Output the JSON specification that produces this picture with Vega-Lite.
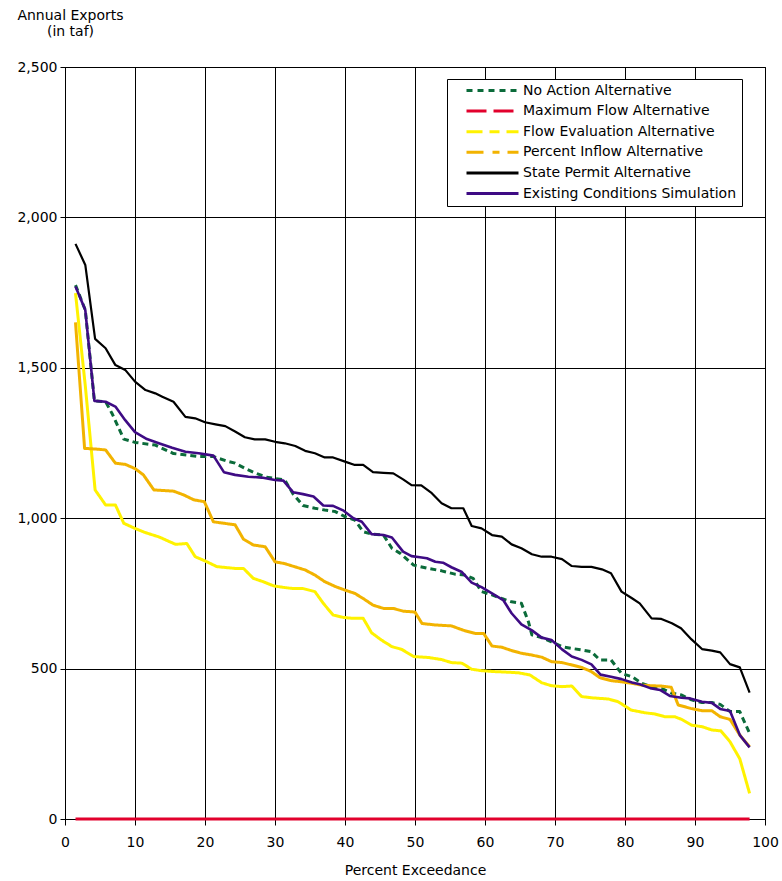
{
  "$schema": "https://vega.github.io/schema/vega-lite/v6.json",
  "autosize": {"type": "none"},
  "width": 700,
  "height": 752,
  "padding": {"left": 65, "top": 67, "right": 17, "bottom": 62},
  "background": "white",
  "config": {
    "view": {"stroke": "black", "strokeWidth": 1},
    "font": "DejaVu Sans",
    "axis": {
      "labelFont": "DejaVu Sans",
      "labelFontSize": 14,
      "labelColor": "black",
      "titleFont": "DejaVu Sans",
      "titleFontSize": 14,
      "titleFontWeight": "normal",
      "titleColor": "black",
      "domainColor": "black",
      "tickColor": "black",
      "gridColor": "black",
      "gridOpacity": 1,
      "gridWidth": 1
    },
    "legend": {
      "labelFont": "DejaVu Sans",
      "labelFontSize": 14,
      "labelColor": "black"
    }
  },
  "data": {
    "values": [
      {"series": "No Action Alternative", "p": 1.5, "taf": 1775},
      {"series": "No Action Alternative", "p": 2.9, "taf": 1692},
      {"series": "No Action Alternative", "p": 4.2, "taf": 1390},
      {"series": "No Action Alternative", "p": 5.8, "taf": 1387},
      {"series": "No Action Alternative", "p": 6.7, "taf": 1349},
      {"series": "No Action Alternative", "p": 8.4, "taf": 1263},
      {"series": "No Action Alternative", "p": 10.0, "taf": 1252},
      {"series": "No Action Alternative", "p": 12.9, "taf": 1243},
      {"series": "No Action Alternative", "p": 15.5, "taf": 1215},
      {"series": "No Action Alternative", "p": 19.1, "taf": 1205},
      {"series": "No Action Alternative", "p": 21.2, "taf": 1205},
      {"series": "No Action Alternative", "p": 23.1, "taf": 1190},
      {"series": "No Action Alternative", "p": 24.3, "taf": 1183},
      {"series": "No Action Alternative", "p": 25.7, "taf": 1166},
      {"series": "No Action Alternative", "p": 27.1, "taf": 1151},
      {"series": "No Action Alternative", "p": 28.8, "taf": 1136},
      {"series": "No Action Alternative", "p": 31.4, "taf": 1127},
      {"series": "No Action Alternative", "p": 32.6, "taf": 1080},
      {"series": "No Action Alternative", "p": 34.0, "taf": 1042},
      {"series": "No Action Alternative", "p": 35.7, "taf": 1033},
      {"series": "No Action Alternative", "p": 37.1, "taf": 1027},
      {"series": "No Action Alternative", "p": 38.6, "taf": 1022},
      {"series": "No Action Alternative", "p": 40.0, "taf": 1005},
      {"series": "No Action Alternative", "p": 41.4, "taf": 994},
      {"series": "No Action Alternative", "p": 42.6, "taf": 955},
      {"series": "No Action Alternative", "p": 43.8, "taf": 947},
      {"series": "No Action Alternative", "p": 45.5, "taf": 944},
      {"series": "No Action Alternative", "p": 46.7, "taf": 900},
      {"series": "No Action Alternative", "p": 47.9, "taf": 883},
      {"series": "No Action Alternative", "p": 49.8, "taf": 844},
      {"series": "No Action Alternative", "p": 51.9, "taf": 833},
      {"series": "No Action Alternative", "p": 53.8, "taf": 825},
      {"series": "No Action Alternative", "p": 55.7, "taf": 814},
      {"series": "No Action Alternative", "p": 57.1, "taf": 811},
      {"series": "No Action Alternative", "p": 58.3, "taf": 800},
      {"series": "No Action Alternative", "p": 59.5, "taf": 756},
      {"series": "No Action Alternative", "p": 61.0, "taf": 745},
      {"series": "No Action Alternative", "p": 62.4, "taf": 733},
      {"series": "No Action Alternative", "p": 63.8, "taf": 722},
      {"series": "No Action Alternative", "p": 65.2, "taf": 717},
      {"series": "No Action Alternative", "p": 66.2, "taf": 656},
      {"series": "No Action Alternative", "p": 66.7, "taf": 612},
      {"series": "No Action Alternative", "p": 68.1, "taf": 603},
      {"series": "No Action Alternative", "p": 69.5, "taf": 589},
      {"series": "No Action Alternative", "p": 71.0, "taf": 573},
      {"series": "No Action Alternative", "p": 72.4, "taf": 567},
      {"series": "No Action Alternative", "p": 73.8, "taf": 562},
      {"series": "No Action Alternative", "p": 75.2, "taf": 556},
      {"series": "No Action Alternative", "p": 76.4, "taf": 529},
      {"series": "No Action Alternative", "p": 78.0, "taf": 529},
      {"series": "No Action Alternative", "p": 79.5, "taf": 484},
      {"series": "No Action Alternative", "p": 81.0, "taf": 473},
      {"series": "No Action Alternative", "p": 82.4, "taf": 451},
      {"series": "No Action Alternative", "p": 83.8, "taf": 440},
      {"series": "No Action Alternative", "p": 85.2, "taf": 434},
      {"series": "No Action Alternative", "p": 86.7, "taf": 418},
      {"series": "No Action Alternative", "p": 88.1, "taf": 412},
      {"series": "No Action Alternative", "p": 89.5, "taf": 396},
      {"series": "No Action Alternative", "p": 91.0, "taf": 387},
      {"series": "No Action Alternative", "p": 92.4, "taf": 387},
      {"series": "No Action Alternative", "p": 93.6, "taf": 381},
      {"series": "No Action Alternative", "p": 95.0, "taf": 357},
      {"series": "No Action Alternative", "p": 96.4, "taf": 357},
      {"series": "No Action Alternative", "p": 97.8, "taf": 285},

      {"series": "Maximum Flow Alternative", "p": 1.5, "taf": 0},
      {"series": "Maximum Flow Alternative", "p": 25.0, "taf": 0},
      {"series": "Maximum Flow Alternative", "p": 50.0, "taf": 0},
      {"series": "Maximum Flow Alternative", "p": 75.0, "taf": 0},
      {"series": "Maximum Flow Alternative", "p": 97.8, "taf": 0},

      {"series": "Flow Evaluation Alternative", "p": 1.5, "taf": 1748},
      {"series": "Flow Evaluation Alternative", "p": 2.9, "taf": 1440},
      {"series": "Flow Evaluation Alternative", "p": 4.3, "taf": 1094},
      {"series": "Flow Evaluation Alternative", "p": 5.8, "taf": 1044},
      {"series": "Flow Evaluation Alternative", "p": 7.2, "taf": 1044},
      {"series": "Flow Evaluation Alternative", "p": 8.4, "taf": 983},
      {"series": "Flow Evaluation Alternative", "p": 10.0, "taf": 966},
      {"series": "Flow Evaluation Alternative", "p": 11.5, "taf": 952},
      {"series": "Flow Evaluation Alternative", "p": 13.4, "taf": 938},
      {"series": "Flow Evaluation Alternative", "p": 15.8, "taf": 913},
      {"series": "Flow Evaluation Alternative", "p": 17.4, "taf": 916},
      {"series": "Flow Evaluation Alternative", "p": 18.6, "taf": 872},
      {"series": "Flow Evaluation Alternative", "p": 20.0, "taf": 858},
      {"series": "Flow Evaluation Alternative", "p": 21.7, "taf": 839},
      {"series": "Flow Evaluation Alternative", "p": 24.3, "taf": 833},
      {"series": "Flow Evaluation Alternative", "p": 25.5, "taf": 833},
      {"series": "Flow Evaluation Alternative", "p": 26.9, "taf": 800},
      {"series": "Flow Evaluation Alternative", "p": 28.3, "taf": 789},
      {"series": "Flow Evaluation Alternative", "p": 29.8, "taf": 775},
      {"series": "Flow Evaluation Alternative", "p": 31.2, "taf": 770},
      {"series": "Flow Evaluation Alternative", "p": 32.6, "taf": 766},
      {"series": "Flow Evaluation Alternative", "p": 34.0, "taf": 766},
      {"series": "Flow Evaluation Alternative", "p": 35.7, "taf": 756},
      {"series": "Flow Evaluation Alternative", "p": 36.9, "taf": 717},
      {"series": "Flow Evaluation Alternative", "p": 38.3, "taf": 678},
      {"series": "Flow Evaluation Alternative", "p": 39.8, "taf": 670},
      {"series": "Flow Evaluation Alternative", "p": 41.2, "taf": 667},
      {"series": "Flow Evaluation Alternative", "p": 42.6, "taf": 667},
      {"series": "Flow Evaluation Alternative", "p": 43.8, "taf": 619},
      {"series": "Flow Evaluation Alternative", "p": 45.2, "taf": 595},
      {"series": "Flow Evaluation Alternative", "p": 46.7, "taf": 573},
      {"series": "Flow Evaluation Alternative", "p": 48.1, "taf": 564},
      {"series": "Flow Evaluation Alternative", "p": 49.8, "taf": 540},
      {"series": "Flow Evaluation Alternative", "p": 51.9, "taf": 537},
      {"series": "Flow Evaluation Alternative", "p": 53.8, "taf": 530},
      {"series": "Flow Evaluation Alternative", "p": 55.2, "taf": 520},
      {"series": "Flow Evaluation Alternative", "p": 56.7, "taf": 518},
      {"series": "Flow Evaluation Alternative", "p": 58.1, "taf": 498},
      {"series": "Flow Evaluation Alternative", "p": 59.5, "taf": 493},
      {"series": "Flow Evaluation Alternative", "p": 61.4, "taf": 490},
      {"series": "Flow Evaluation Alternative", "p": 63.3, "taf": 488},
      {"series": "Flow Evaluation Alternative", "p": 64.8, "taf": 486},
      {"series": "Flow Evaluation Alternative", "p": 66.4, "taf": 479},
      {"series": "Flow Evaluation Alternative", "p": 68.1, "taf": 453},
      {"series": "Flow Evaluation Alternative", "p": 69.5, "taf": 443},
      {"series": "Flow Evaluation Alternative", "p": 71.0, "taf": 440},
      {"series": "Flow Evaluation Alternative", "p": 72.4, "taf": 442},
      {"series": "Flow Evaluation Alternative", "p": 73.8, "taf": 407},
      {"series": "Flow Evaluation Alternative", "p": 75.2, "taf": 403},
      {"series": "Flow Evaluation Alternative", "p": 76.4, "taf": 401},
      {"series": "Flow Evaluation Alternative", "p": 77.6, "taf": 399},
      {"series": "Flow Evaluation Alternative", "p": 79.0, "taf": 390},
      {"series": "Flow Evaluation Alternative", "p": 80.9, "taf": 362},
      {"series": "Flow Evaluation Alternative", "p": 82.9, "taf": 353},
      {"series": "Flow Evaluation Alternative", "p": 84.3, "taf": 349},
      {"series": "Flow Evaluation Alternative", "p": 85.7, "taf": 340},
      {"series": "Flow Evaluation Alternative", "p": 87.1, "taf": 340},
      {"series": "Flow Evaluation Alternative", "p": 88.1, "taf": 331},
      {"series": "Flow Evaluation Alternative", "p": 89.5, "taf": 312},
      {"series": "Flow Evaluation Alternative", "p": 91.0, "taf": 307},
      {"series": "Flow Evaluation Alternative", "p": 92.4, "taf": 296},
      {"series": "Flow Evaluation Alternative", "p": 93.7, "taf": 293},
      {"series": "Flow Evaluation Alternative", "p": 95.0, "taf": 257},
      {"series": "Flow Evaluation Alternative", "p": 96.4, "taf": 200},
      {"series": "Flow Evaluation Alternative", "p": 97.8, "taf": 85},

      {"series": "Percent Inflow Alternative", "p": 1.5, "taf": 1651},
      {"series": "Percent Inflow Alternative", "p": 2.8, "taf": 1232},
      {"series": "Percent Inflow Alternative", "p": 4.3, "taf": 1230},
      {"series": "Percent Inflow Alternative", "p": 5.8, "taf": 1227},
      {"series": "Percent Inflow Alternative", "p": 7.2, "taf": 1183},
      {"series": "Percent Inflow Alternative", "p": 8.6, "taf": 1179},
      {"series": "Percent Inflow Alternative", "p": 10.0, "taf": 1165},
      {"series": "Percent Inflow Alternative", "p": 11.2, "taf": 1144},
      {"series": "Percent Inflow Alternative", "p": 12.7, "taf": 1094},
      {"series": "Percent Inflow Alternative", "p": 15.5, "taf": 1090},
      {"series": "Percent Inflow Alternative", "p": 17.0, "taf": 1077},
      {"series": "Percent Inflow Alternative", "p": 18.4, "taf": 1061},
      {"series": "Percent Inflow Alternative", "p": 19.9, "taf": 1055},
      {"series": "Percent Inflow Alternative", "p": 21.2, "taf": 988},
      {"series": "Percent Inflow Alternative", "p": 24.3, "taf": 978},
      {"series": "Percent Inflow Alternative", "p": 25.5, "taf": 930},
      {"series": "Percent Inflow Alternative", "p": 26.9, "taf": 911},
      {"series": "Percent Inflow Alternative", "p": 28.6, "taf": 905},
      {"series": "Percent Inflow Alternative", "p": 30.0, "taf": 855},
      {"series": "Percent Inflow Alternative", "p": 31.4, "taf": 849},
      {"series": "Percent Inflow Alternative", "p": 32.9, "taf": 838},
      {"series": "Percent Inflow Alternative", "p": 34.3, "taf": 828},
      {"series": "Percent Inflow Alternative", "p": 35.7, "taf": 811},
      {"series": "Percent Inflow Alternative", "p": 37.1, "taf": 789},
      {"series": "Percent Inflow Alternative", "p": 38.6, "taf": 773},
      {"series": "Percent Inflow Alternative", "p": 40.0, "taf": 761},
      {"series": "Percent Inflow Alternative", "p": 41.4, "taf": 750},
      {"series": "Percent Inflow Alternative", "p": 42.6, "taf": 733},
      {"series": "Percent Inflow Alternative", "p": 44.0, "taf": 711},
      {"series": "Percent Inflow Alternative", "p": 45.5, "taf": 700},
      {"series": "Percent Inflow Alternative", "p": 46.9, "taf": 700},
      {"series": "Percent Inflow Alternative", "p": 48.3, "taf": 691},
      {"series": "Percent Inflow Alternative", "p": 50.0, "taf": 688},
      {"series": "Percent Inflow Alternative", "p": 51.0, "taf": 650},
      {"series": "Percent Inflow Alternative", "p": 52.9, "taf": 645},
      {"series": "Percent Inflow Alternative", "p": 55.2, "taf": 642},
      {"series": "Percent Inflow Alternative", "p": 57.1, "taf": 626},
      {"series": "Percent Inflow Alternative", "p": 58.6, "taf": 617},
      {"series": "Percent Inflow Alternative", "p": 59.8, "taf": 617},
      {"series": "Percent Inflow Alternative", "p": 61.0, "taf": 575},
      {"series": "Percent Inflow Alternative", "p": 62.4, "taf": 571},
      {"series": "Percent Inflow Alternative", "p": 63.8, "taf": 560},
      {"series": "Percent Inflow Alternative", "p": 65.2, "taf": 551},
      {"series": "Percent Inflow Alternative", "p": 66.7, "taf": 545},
      {"series": "Percent Inflow Alternative", "p": 68.1, "taf": 538},
      {"series": "Percent Inflow Alternative", "p": 69.5, "taf": 523},
      {"series": "Percent Inflow Alternative", "p": 71.0, "taf": 520},
      {"series": "Percent Inflow Alternative", "p": 72.4, "taf": 512},
      {"series": "Percent Inflow Alternative", "p": 73.8, "taf": 504},
      {"series": "Percent Inflow Alternative", "p": 75.2, "taf": 490},
      {"series": "Percent Inflow Alternative", "p": 76.4, "taf": 470},
      {"series": "Percent Inflow Alternative", "p": 78.0, "taf": 460},
      {"series": "Percent Inflow Alternative", "p": 79.5, "taf": 456},
      {"series": "Percent Inflow Alternative", "p": 81.0, "taf": 451},
      {"series": "Percent Inflow Alternative", "p": 82.4, "taf": 445},
      {"series": "Percent Inflow Alternative", "p": 83.8, "taf": 443},
      {"series": "Percent Inflow Alternative", "p": 85.2, "taf": 442},
      {"series": "Percent Inflow Alternative", "p": 86.6, "taf": 438},
      {"series": "Percent Inflow Alternative", "p": 87.6, "taf": 379},
      {"series": "Percent Inflow Alternative", "p": 89.5, "taf": 367},
      {"series": "Percent Inflow Alternative", "p": 91.0, "taf": 360},
      {"series": "Percent Inflow Alternative", "p": 92.4, "taf": 360},
      {"series": "Percent Inflow Alternative", "p": 93.6, "taf": 340},
      {"series": "Percent Inflow Alternative", "p": 95.0, "taf": 331},
      {"series": "Percent Inflow Alternative", "p": 96.4, "taf": 279},
      {"series": "Percent Inflow Alternative", "p": 97.8, "taf": 240},

      {"series": "State Permit Alternative", "p": 1.5, "taf": 1912},
      {"series": "State Permit Alternative", "p": 2.9, "taf": 1842},
      {"series": "State Permit Alternative", "p": 4.3, "taf": 1596},
      {"series": "State Permit Alternative", "p": 5.8, "taf": 1565},
      {"series": "State Permit Alternative", "p": 7.2, "taf": 1509},
      {"series": "State Permit Alternative", "p": 8.6, "taf": 1493},
      {"series": "State Permit Alternative", "p": 10.0, "taf": 1454},
      {"series": "State Permit Alternative", "p": 11.5, "taf": 1426},
      {"series": "State Permit Alternative", "p": 12.9, "taf": 1415},
      {"series": "State Permit Alternative", "p": 13.9, "taf": 1404},
      {"series": "State Permit Alternative", "p": 15.5, "taf": 1387},
      {"series": "State Permit Alternative", "p": 17.2, "taf": 1337},
      {"series": "State Permit Alternative", "p": 18.6, "taf": 1332},
      {"series": "State Permit Alternative", "p": 20.0, "taf": 1319},
      {"series": "State Permit Alternative", "p": 21.5, "taf": 1312},
      {"series": "State Permit Alternative", "p": 22.9, "taf": 1306},
      {"series": "State Permit Alternative", "p": 24.3, "taf": 1288},
      {"series": "State Permit Alternative", "p": 25.7, "taf": 1269},
      {"series": "State Permit Alternative", "p": 27.1, "taf": 1262},
      {"series": "State Permit Alternative", "p": 28.6, "taf": 1262},
      {"series": "State Permit Alternative", "p": 30.0, "taf": 1254},
      {"series": "State Permit Alternative", "p": 31.4, "taf": 1249},
      {"series": "State Permit Alternative", "p": 32.9, "taf": 1240},
      {"series": "State Permit Alternative", "p": 34.3, "taf": 1224},
      {"series": "State Permit Alternative", "p": 35.7, "taf": 1216},
      {"series": "State Permit Alternative", "p": 37.1, "taf": 1202},
      {"series": "State Permit Alternative", "p": 38.3, "taf": 1202},
      {"series": "State Permit Alternative", "p": 40.0, "taf": 1188},
      {"series": "State Permit Alternative", "p": 41.4, "taf": 1177},
      {"series": "State Permit Alternative", "p": 42.6, "taf": 1177},
      {"series": "State Permit Alternative", "p": 44.0, "taf": 1153},
      {"series": "State Permit Alternative", "p": 45.5, "taf": 1151},
      {"series": "State Permit Alternative", "p": 46.9, "taf": 1149},
      {"series": "State Permit Alternative", "p": 48.3, "taf": 1129},
      {"series": "State Permit Alternative", "p": 49.5, "taf": 1110},
      {"series": "State Permit Alternative", "p": 50.9, "taf": 1109},
      {"series": "State Permit Alternative", "p": 52.4, "taf": 1083},
      {"series": "State Permit Alternative", "p": 53.8, "taf": 1050},
      {"series": "State Permit Alternative", "p": 55.2, "taf": 1033},
      {"series": "State Permit Alternative", "p": 56.9, "taf": 1033},
      {"series": "State Permit Alternative", "p": 58.1, "taf": 974},
      {"series": "State Permit Alternative", "p": 59.5, "taf": 966},
      {"series": "State Permit Alternative", "p": 61.0, "taf": 944},
      {"series": "State Permit Alternative", "p": 62.4, "taf": 939},
      {"series": "State Permit Alternative", "p": 63.8, "taf": 913},
      {"series": "State Permit Alternative", "p": 65.2, "taf": 900},
      {"series": "State Permit Alternative", "p": 66.7, "taf": 880},
      {"series": "State Permit Alternative", "p": 68.1, "taf": 872},
      {"series": "State Permit Alternative", "p": 69.5, "taf": 872},
      {"series": "State Permit Alternative", "p": 71.0, "taf": 864},
      {"series": "State Permit Alternative", "p": 72.4, "taf": 841},
      {"series": "State Permit Alternative", "p": 73.8, "taf": 838},
      {"series": "State Permit Alternative", "p": 75.2, "taf": 838},
      {"series": "State Permit Alternative", "p": 76.7, "taf": 830},
      {"series": "State Permit Alternative", "p": 78.0, "taf": 817},
      {"series": "State Permit Alternative", "p": 79.5, "taf": 756},
      {"series": "State Permit Alternative", "p": 81.0, "taf": 734},
      {"series": "State Permit Alternative", "p": 82.1, "taf": 717},
      {"series": "State Permit Alternative", "p": 83.8, "taf": 667},
      {"series": "State Permit Alternative", "p": 85.2, "taf": 665},
      {"series": "State Permit Alternative", "p": 86.7, "taf": 651},
      {"series": "State Permit Alternative", "p": 88.0, "taf": 634},
      {"series": "State Permit Alternative", "p": 89.5, "taf": 597},
      {"series": "State Permit Alternative", "p": 91.0, "taf": 565},
      {"series": "State Permit Alternative", "p": 92.4, "taf": 560},
      {"series": "State Permit Alternative", "p": 93.6, "taf": 554},
      {"series": "State Permit Alternative", "p": 95.0, "taf": 515},
      {"series": "State Permit Alternative", "p": 96.4, "taf": 504},
      {"series": "State Permit Alternative", "p": 97.8, "taf": 420},

      {"series": "Existing Conditions Simulation", "p": 1.5, "taf": 1770},
      {"series": "Existing Conditions Simulation", "p": 2.9, "taf": 1692},
      {"series": "Existing Conditions Simulation", "p": 4.2, "taf": 1390},
      {"series": "Existing Conditions Simulation", "p": 5.8, "taf": 1387},
      {"series": "Existing Conditions Simulation", "p": 7.2, "taf": 1371},
      {"series": "Existing Conditions Simulation", "p": 8.6, "taf": 1326},
      {"series": "Existing Conditions Simulation", "p": 10.0, "taf": 1286},
      {"series": "Existing Conditions Simulation", "p": 11.7, "taf": 1263},
      {"series": "Existing Conditions Simulation", "p": 13.4, "taf": 1249},
      {"series": "Existing Conditions Simulation", "p": 15.3, "taf": 1234},
      {"series": "Existing Conditions Simulation", "p": 17.2, "taf": 1221},
      {"series": "Existing Conditions Simulation", "p": 19.1, "taf": 1216},
      {"series": "Existing Conditions Simulation", "p": 21.2, "taf": 1208},
      {"series": "Existing Conditions Simulation", "p": 22.7, "taf": 1153},
      {"series": "Existing Conditions Simulation", "p": 24.3, "taf": 1144},
      {"series": "Existing Conditions Simulation", "p": 26.2, "taf": 1138},
      {"series": "Existing Conditions Simulation", "p": 28.1, "taf": 1135},
      {"series": "Existing Conditions Simulation", "p": 30.0, "taf": 1127},
      {"series": "Existing Conditions Simulation", "p": 31.2, "taf": 1125},
      {"series": "Existing Conditions Simulation", "p": 32.6, "taf": 1086},
      {"series": "Existing Conditions Simulation", "p": 34.0, "taf": 1080},
      {"series": "Existing Conditions Simulation", "p": 35.5, "taf": 1072},
      {"series": "Existing Conditions Simulation", "p": 36.9, "taf": 1042},
      {"series": "Existing Conditions Simulation", "p": 38.3, "taf": 1041},
      {"series": "Existing Conditions Simulation", "p": 39.8, "taf": 1025},
      {"series": "Existing Conditions Simulation", "p": 41.2, "taf": 1000},
      {"series": "Existing Conditions Simulation", "p": 42.4, "taf": 988},
      {"series": "Existing Conditions Simulation", "p": 43.8, "taf": 947},
      {"series": "Existing Conditions Simulation", "p": 45.5, "taf": 944},
      {"series": "Existing Conditions Simulation", "p": 46.7, "taf": 936},
      {"series": "Existing Conditions Simulation", "p": 48.3, "taf": 889},
      {"series": "Existing Conditions Simulation", "p": 49.5, "taf": 874},
      {"series": "Existing Conditions Simulation", "p": 50.7, "taf": 870},
      {"series": "Existing Conditions Simulation", "p": 51.7, "taf": 867},
      {"series": "Existing Conditions Simulation", "p": 52.9, "taf": 855},
      {"series": "Existing Conditions Simulation", "p": 54.0, "taf": 852},
      {"series": "Existing Conditions Simulation", "p": 55.2, "taf": 837},
      {"series": "Existing Conditions Simulation", "p": 56.7, "taf": 821},
      {"series": "Existing Conditions Simulation", "p": 58.1, "taf": 786},
      {"series": "Existing Conditions Simulation", "p": 59.5, "taf": 771},
      {"series": "Existing Conditions Simulation", "p": 61.0, "taf": 750},
      {"series": "Existing Conditions Simulation", "p": 62.6, "taf": 728},
      {"series": "Existing Conditions Simulation", "p": 63.8, "taf": 684},
      {"series": "Existing Conditions Simulation", "p": 65.2, "taf": 647},
      {"series": "Existing Conditions Simulation", "p": 66.7, "taf": 627},
      {"series": "Existing Conditions Simulation", "p": 68.1, "taf": 603},
      {"series": "Existing Conditions Simulation", "p": 69.5, "taf": 595},
      {"series": "Existing Conditions Simulation", "p": 71.0, "taf": 564},
      {"series": "Existing Conditions Simulation", "p": 72.4, "taf": 540},
      {"series": "Existing Conditions Simulation", "p": 73.8, "taf": 529},
      {"series": "Existing Conditions Simulation", "p": 75.2, "taf": 514},
      {"series": "Existing Conditions Simulation", "p": 76.5, "taf": 480},
      {"series": "Existing Conditions Simulation", "p": 78.0, "taf": 473},
      {"series": "Existing Conditions Simulation", "p": 79.5, "taf": 465},
      {"series": "Existing Conditions Simulation", "p": 81.0, "taf": 454},
      {"series": "Existing Conditions Simulation", "p": 82.1, "taf": 448},
      {"series": "Existing Conditions Simulation", "p": 83.6, "taf": 435},
      {"series": "Existing Conditions Simulation", "p": 85.0, "taf": 429},
      {"series": "Existing Conditions Simulation", "p": 86.4, "taf": 409},
      {"series": "Existing Conditions Simulation", "p": 88.1, "taf": 403},
      {"series": "Existing Conditions Simulation", "p": 89.3, "taf": 401},
      {"series": "Existing Conditions Simulation", "p": 91.0, "taf": 390},
      {"series": "Existing Conditions Simulation", "p": 92.4, "taf": 386},
      {"series": "Existing Conditions Simulation", "p": 93.6, "taf": 366},
      {"series": "Existing Conditions Simulation", "p": 95.0, "taf": 359},
      {"series": "Existing Conditions Simulation", "p": 96.4, "taf": 279},
      {"series": "Existing Conditions Simulation", "p": 97.8, "taf": 238}
    ]
  },
  "encoding": {
    "x": {
      "field": "p",
      "type": "quantitative",
      "scale": {"domain": [0, 100], "nice": false, "zero": false},
      "axis": {
        "title": "Percent Exceedance",
        "values": [0, 10, 20, 30, 40, 50, 60, 70, 80, 90, 100],
        "format": ".0f",
        "grid": true,
        "tickSize": 6,
        "labelPadding": 10,
        "titlePadding": 14,
        "labelFlush": false
      }
    },
    "y": {
      "field": "taf",
      "type": "quantitative",
      "scale": {"domain": [0, 2500], "nice": false},
      "axis": {
        "title": ["Annual Exports", "(in taf)"],
        "values": [0, 500, 1000, 1500, 2000, 2500],
        "format": ",.0f",
        "grid": true,
        "tickSize": 5,
        "labelPadding": 3,
        "titleAngle": 0,
        "titleAlign": "center",
        "titleBaseline": "top",
        "titleX": 5,
        "titleY": -59,
        "titleLineHeight": 16
      }
    }
  },
  "layer": [
    {
      "transform": [{"filter": {"field": "series", "oneOf": ["No Action Alternative", "Maximum Flow Alternative", "Flow Evaluation Alternative", "Percent Inflow Alternative"]}}],
      "mark": {"type": "line", "strokeWidth": 3, "strokeCap": "butt", "strokeJoin": "round"},
      "encoding": {
        "color": {
          "field": "series", "type": "nominal", "legend": null,
          "scale": {
            "domain": ["No Action Alternative", "Maximum Flow Alternative", "Flow Evaluation Alternative", "Percent Inflow Alternative", "State Permit Alternative", "Existing Conditions Simulation"],
            "range": ["#0B6B3A", "#E2002C", "#FFF200", "#F2B300", "#000000", "#3E0B84"]
          }
        },
        "strokeDash": {
          "field": "series", "type": "nominal", "legend": null,
          "scale": {
            "domain": ["No Action Alternative", "Maximum Flow Alternative", "Flow Evaluation Alternative", "Percent Inflow Alternative", "State Permit Alternative", "Existing Conditions Simulation"],
            "range": [[6, 4], [1, 0], [1, 0], [1, 0], [1, 0], [1, 0]]
          }
        }
      }
    },
    {
      "transform": [{"filter": {"field": "series", "equal": "State Permit Alternative"}}],
      "mark": {"type": "line", "strokeWidth": 2.2, "strokeCap": "butt", "strokeJoin": "round", "color": "#000000"}
    },
    {
      "transform": [{"filter": {"field": "series", "equal": "Existing Conditions Simulation"}}],
      "mark": {"type": "line", "strokeWidth": 2.6, "strokeCap": "butt", "strokeJoin": "round", "color": "#3E0B84"}
    },
    {
      "transform": [{"filter": {"field": "p", "lt": -1}}],
      "mark": {"type": "line", "strokeWidth": 3, "strokeCap": "butt"},
      "encoding": {
        "color": {
          "field": "series", "type": "nominal",
          "scale": {
            "domain": ["No Action Alternative", "Maximum Flow Alternative", "Flow Evaluation Alternative", "Percent Inflow Alternative", "State Permit Alternative", "Existing Conditions Simulation"],
            "range": ["#0B6B3A", "#E2002C", "#FFF200", "#F2B300", "#000000", "#3E0B84"]
          },
          "legend": {
            "title": null,
            "orient": "none",
            "legendX": 382,
            "legendY": 12,
            "direction": "vertical",
            "fillColor": "white",
            "strokeColor": "black",
            "padding": 5,
            "symbolType": "stroke",
            "symbolSize": 2704,
            "symbolStrokeWidth": 3,
            "symbolOffset": 13,
            "labelOffset": 3,
            "clipHeight": 13,
            "rowPadding": 5.6,
            "labelLimit": 400
          }
        },
        "strokeDash": {
          "field": "series", "type": "nominal",
          "scale": {
            "domain": ["No Action Alternative", "Maximum Flow Alternative", "Flow Evaluation Alternative", "Percent Inflow Alternative", "State Permit Alternative", "Existing Conditions Simulation"],
            "range": [[6, 5], [20, 7], [16, 7, 10, 7], [17, 9, 7, 8], [1, 0], [1, 0]]
          },
          "legend": {
            "title": null,
            "orient": "none",
            "legendX": 382,
            "legendY": 12,
            "direction": "vertical",
            "fillColor": "white",
            "strokeColor": "black",
            "padding": 5,
            "symbolType": "stroke",
            "symbolSize": 2704,
            "symbolStrokeWidth": 3,
            "symbolOffset": 13,
            "labelOffset": 3,
            "clipHeight": 13,
            "rowPadding": 5.6,
            "labelLimit": 400
          }
        }
      }
    }
  ],
  "resolve": {
    "scale": {"color": "independent", "strokeDash": "independent"},
    "legend": {"color": "independent", "strokeDash": "independent"}
  }
}
